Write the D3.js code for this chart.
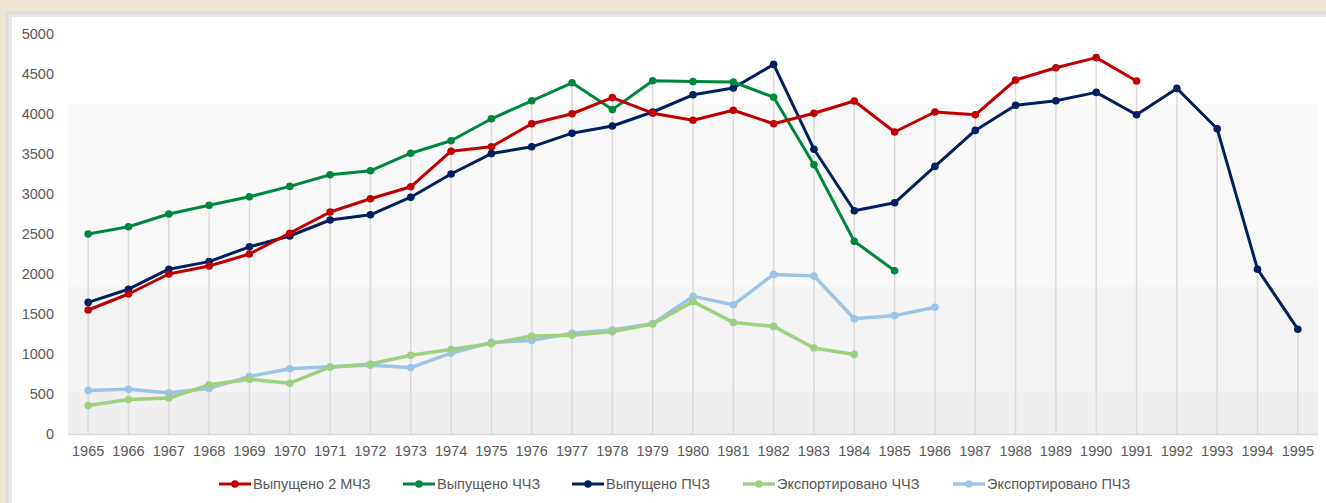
<!DOCTYPE html>
<html>
<head>
<meta charset="utf-8">
<script src="https://cdn.jsdelivr.net/npm/d3@7"></script>
<style>
  html, body { margin: 0; padding: 0; background: #ede4d4; }
  svg { display: block; }
</style>
</head>
<body>
<div id="chart"></div>
<script>
// years along the x axis
const years = d3.range(1965, 1996).map(String);

// Выпущено 2 МЧЗ (1965-1991)
const vypMCHZ = [1550, 1750, 2000, 2100, 2250, 2510, 2775, 2940, 3090, 3535, 3590, 3878, 4003, 4205, 4010, 3922, 4047, 3878, 4010, 4163, 3775, 4025, 3990, 4425, 4578, 4705, 4413];
// Выпущено ЧЧЗ (1965-1985)
const vypCHCHZ = [2500, 2590, 2750, 2860, 2965, 3095, 3240, 3290, 3510, 3665, 3940, 4165, 4390, 4055, 4415, 4405, 4400, 4210, 3365, 2410, 2040];
// Выпущено ПЧЗ (1965-1995)
const vypPCHZ = [1645, 1810, 2060, 2155, 2340, 2475, 2675, 2740, 2960, 3250, 3505, 3590, 3760, 3850, 4025, 4240, 4325, 4620, 3560, 2790, 2890, 3345, 3795, 4110, 4165, 4270, 3990, 4320, 3815, 2060, 1310];
// Экспортировано ЧЧЗ (1965-1984)
const expCHCHZ = [355, 430, 450, 615, 685, 635, 835, 875, 985, 1055, 1130, 1225, 1235, 1280, 1375, 1655, 1395, 1345, 1075, 995];
// Экспортировано ПЧЗ (1965-1986)
const expPCHZ = [545, 560, 515, 570, 720, 815, 840, 860, 830, 1010, 1145, 1170, 1260, 1300, 1380, 1720, 1615, 1995, 1975, 1440, 1480, 1585];

const yTicks = [0, 500, 1000, 1500, 2000, 2500, 3000, 3500, 4000, 4500, 5000];

const series = [
  {name: "Выпущено 2 МЧЗ", values: vypMCHZ, color: "#c00000", width: 3},
  {name: "Выпущено ЧЧЗ", values: vypCHCHZ, color: "#00873e", width: 3},
  {name: "Выпущено ПЧЗ", values: vypPCHZ, color: "#002060", width: 3},
  {name: "Экспортировано ЧЧЗ", values: expCHCHZ, color: "#9fd082", width: 3.5},
  {name: "Экспортировано ПЧЗ", values: expPCHZ, color: "#9dc3e6", width: 3.5}
];

const W = 1326, H = 503;
const font = "'Liberation Sans', Arial, sans-serif";
const textColor = "#595959";

const svg = d3.select("#chart").append("svg")
  .attr("width", W).attr("height", H);

// outer frame: beige page, grey border, white chart panel
svg.append("rect").attr("x", 6).attr("y", 11).attr("width", W - 6).attr("height", H - 11).attr("fill", "#dcdcdc");
svg.append("rect").attr("x", 9).attr("y", 15).attr("width", W - 9).attr("height", H - 15).attr("fill", "#e8e8e8");
svg.append("rect").attr("x", 12).attr("y", 17).attr("width", W - 12).attr("height", H - 17).attr("fill", "#ffffff");

const plot = {left: 68, right: 1318, top: 34, bottom: 434};

const x = d3.scaleBand().domain(years).range([plot.left, plot.right]);
const cx = d => x(d) + x.bandwidth() / 2;
const y = d3.scaleLinear().domain([0, 5000]).range([plot.bottom, plot.top]);

// stepped grey background of the plot area
const bands = [
  {from: 4125, to: 1840, fill: "#f9f9f9"},
  {from: 1840, to: 530, fill: "#f4f4f4"},
  {from: 530, to: 0, fill: "#efefef"}
];
svg.append("g").selectAll("rect").data(bands).join("rect")
  .attr("x", plot.left)
  .attr("width", plot.right - plot.left)
  .attr("y", d => y(d.from))
  .attr("height", d => y(d.to) - y(d.from))
  .attr("fill", d => d.fill);

// drop lines from the highest point of each year
const maxByYear = years.map((yr, i) => ({
  year: yr,
  value: d3.max(series, s => s.values[i])
}));
svg.append("g").selectAll("line").data(maxByYear).join("line")
  .attr("x1", d => cx(d.year)).attr("x2", d => cx(d.year))
  .attr("y1", d => y(d.value)).attr("y2", y(0))
  .attr("stroke", "#dadada").attr("stroke-width", 1.5);

// x axis
const xAxis = svg.append("g")
  .attr("transform", `translate(0,${plot.bottom})`)
  .call(d3.axisBottom(x).tickSize(0).tickPadding(12));
xAxis.select(".domain").attr("stroke", "#d9d9d9").attr("stroke-width", 1.5);
xAxis.selectAll("text").attr("font-family", font).attr("font-size", 14.5).attr("fill", textColor);

// y axis (labels only)
const yAxis = svg.append("g")
  .attr("transform", `translate(${plot.left},0)`)
  .call(d3.axisLeft(y).tickValues(yTicks).tickSize(0).tickPadding(14).tickFormat(d3.format("d")));
yAxis.select(".domain").remove();
yAxis.selectAll("text").attr("font-family", font).attr("font-size", 14.5).attr("fill", textColor);

// series lines and markers
const line = d3.line().x((d, i) => cx(years[i])).y(d => y(d));
series.slice().reverse().forEach(s => {
  const g = svg.append("g");
  g.append("path")
    .datum(s.values)
    .attr("fill", "none")
    .attr("stroke", s.color)
    .attr("stroke-width", s.width)
    .attr("stroke-linejoin", "round")
    .attr("d", line);
  g.selectAll("circle").data(s.values).join("circle")
    .attr("cx", (d, i) => cx(years[i]))
    .attr("cy", d => y(d))
    .attr("r", 3.8)
    .attr("fill", s.color);
});

// legend
const legendX = [219, 403, 572, 743, 953];
const legend = svg.append("g").attr("transform", "translate(0,484)");
series.forEach((s, i) => {
  const g = legend.append("g").attr("transform", `translate(${legendX[i]},0)`);
  g.append("line").attr("x1", 0).attr("x2", 32).attr("y1", 0).attr("y2", 0)
    .attr("stroke", s.color).attr("stroke-width", s.width);
  g.append("circle").attr("cx", 16).attr("cy", 0).attr("r", 3.8).attr("fill", s.color);
  g.append("text").attr("x", 34).attr("y", 0).attr("dy", "0.35em")
    .attr("font-family", font).attr("font-size", 14.5).attr("fill", textColor)
    .text(s.name);
});
</script>
</body>
</html>
